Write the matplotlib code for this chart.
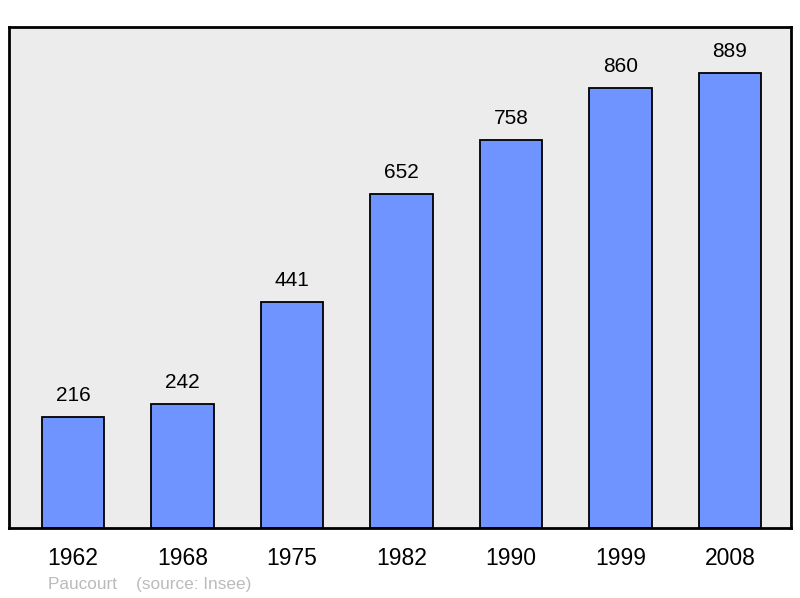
import matplotlib.pyplot as plt

years = ["1962", "1968", "1975", "1982", "1990", "1999", "2008"]
population = [216, 242, 441, 652, 758, 860, 889]

plt.rcParams['font.family'] = ['Liberation Sans', 'DejaVu Sans']

fig = plt.figure(figsize=(8, 5.98), dpi=100)
# axes box in pixel terms: x 9..791, y 27..528
ax = fig.add_axes([9 / 800, 1 - 528 / 598, 782 / 800, 501 / 598])
ax.set_facecolor('#ececec')

x = list(range(len(years)))
ax.bar(x, population, width=0.57, color='#7094ff', edgecolor='black', linewidth=1.3)

for xi, v in zip(x, population):
    ax.annotate(str(v), (xi, v), xytext=(0, 15.5), textcoords='offset points',
                ha='center', va='center', fontsize=15)

ax.set_xlim(-0.585, 6.557)
ax.set_ylim(0, 979)
ax.set_xticks(x)
ax.set_xticklabels(years, fontsize=16.5)
ax.tick_params(axis='x', length=0, pad=14)
ax.set_yticks([])
for s in ax.spines.values():
    s.set_linewidth(2)

fig.text(48 / 800, 1 - 584 / 598, "Paucourt    (source: Insee)", fontsize=12.4,
         color='#bbbbbb', va='center', ha='left')

fig.savefig('out.png', dpi=100)
